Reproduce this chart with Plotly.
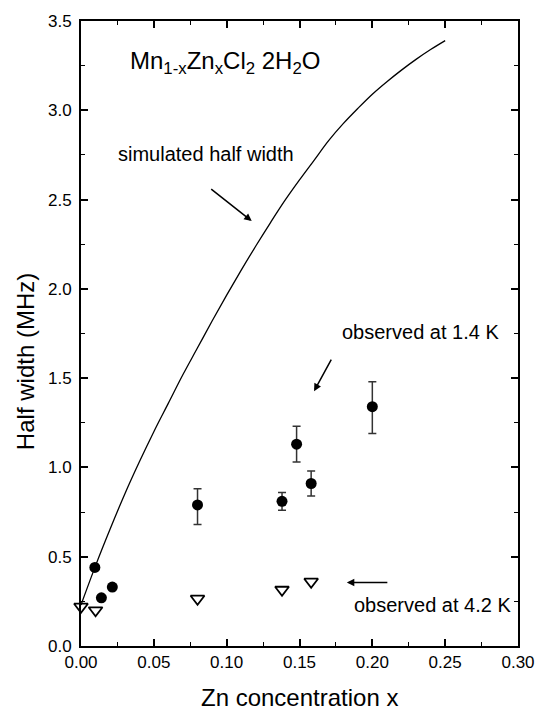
import plotly.graph_objects as go

# Simulated half width curve
sim_x = [0.00, 0.01, 0.02, 0.03, 0.04, 0.05, 0.06, 0.07, 0.08, 0.09, 0.10, 0.11, 0.12,
         0.13, 0.14, 0.15, 0.16, 0.17, 0.18, 0.19, 0.20, 0.21, 0.22, 0.23, 0.24, 0.25]
sim_y = [0.23, 0.45, 0.655, 0.85, 1.03, 1.20, 1.36, 1.52, 1.67, 1.82, 1.965, 2.105, 2.24,
         2.37, 2.495, 2.61, 2.72, 2.83, 2.925, 3.01, 3.09, 3.16, 3.225, 3.285, 3.34, 3.39]

# Observed at 1.4 K (filled circles)
obs14_x = [0.0095, 0.014, 0.0215, 0.080, 0.138, 0.148, 0.158, 0.200]
obs14_y = [0.44, 0.27, 0.33, 0.79, 0.81, 1.13, 0.91, 1.34]
obs14_err_plus = [0, 0, 0, 0.09, 0.05, 0.10, 0.07, 0.14]
obs14_err_minus = [0, 0, 0, 0.11, 0.05, 0.10, 0.07, 0.15]

# Observed at 4.2 K (open down triangles)
obs42_x = [0.0, 0.010, 0.080, 0.138, 0.158]
obs42_y = [0.22, 0.20, 0.265, 0.315, 0.36]

x_ticks = [0.00, 0.05, 0.10, 0.15, 0.20, 0.25, 0.30]
y_ticks = [0.0, 0.5, 1.0, 1.5, 2.0, 2.5, 3.0, 3.5]

FONT = "Liberation Sans, Arial, Helvetica, sans-serif"

fig = go.Figure()

fig.add_trace(go.Scatter(
    x=sim_x, y=sim_y, mode="lines",
    line=dict(color="black", width=1.3, shape="spline", smoothing=1.0),
    showlegend=False, hoverinfo="skip"))

fig.add_trace(go.Scatter(
    x=obs14_x, y=obs14_y, mode="markers",
    marker=dict(symbol="circle", size=11, color="black"),
    error_y=dict(type="data", array=obs14_err_plus, arrayminus=obs14_err_minus,
                 symmetric=False, color="#333333", thickness=1.5, width=4),
    showlegend=False))

fig.add_trace(go.Scatter(
    x=obs42_x, y=obs42_y, mode="markers",
    marker=dict(symbol="triangle-down-open", size=12, color="black",
                line=dict(width=1.8, color="black")),
    cliponaxis=False,
    showlegend=False))

axis_common = dict(
    showgrid=False, zeroline=False, showline=True, linecolor="black", linewidth=2,
    mirror="ticks", ticks="inside", ticklen=7, tickwidth=1.5, tickcolor="black",
    tickfont=dict(family=FONT, size=17, color="black"),
)

fig.update_xaxes(range=[0, 0.30], tickvals=x_ticks, ticktext=[f"{v:.2f}" for v in x_ticks],
                 minor=dict(ticks="inside", ticklen=4, tickwidth=1.2, dtick=0.025, tick0=0, tickcolor="black"),
                 **axis_common)
fig.update_yaxes(range=[0, 3.5], tickvals=y_ticks, ticktext=[f"{v:.1f}" for v in y_ticks],
                 minor=dict(ticks="inside", ticklen=4, tickwidth=1.2, dtick=0.25, tick0=0, tickcolor="black"),
                 ticklabelstandoff=4,
                 **axis_common)

ann_font = dict(family=FONT, size=20, color="black")
annotations = [
    dict(x=0.032, y=3.27, xref="x", yref="y", xanchor="left", yanchor="middle",
         text="Mn<sub>1-x</sub>Zn<sub>x</sub>Cl<sub>2</sub> 2H<sub>2</sub>O",
         showarrow=False, font=dict(family=FONT, size=24, color="black")),
    dict(x=0.0238, y=2.754, xref="x", yref="y", xanchor="left", yanchor="middle",
         text="simulated half width", showarrow=False, font=ann_font),
    dict(x=0.1776, y=1.76, xref="x", yref="y", xanchor="left", yanchor="middle",
         text="observed at 1.4 K", showarrow=False, font=ann_font),
    dict(x=0.1857, y=0.228, xref="x", yref="y", xanchor="left", yanchor="middle",
         text="observed at 4.2 K", showarrow=False, font=ann_font),
    # arrows
    dict(x=0.1172, y=2.38, xref="x", yref="y", ax=-42, ay=-33, axref="pixel", ayref="pixel",
         text="", showarrow=True, arrowhead=2, arrowsize=1, arrowwidth=1.5, arrowcolor="black"),
    dict(x=0.160, y=1.427, xref="x", yref="y", ax=18, ay=-33, axref="pixel", ayref="pixel",
         text="", showarrow=True, arrowhead=2, arrowsize=1, arrowwidth=1.5, arrowcolor="black"),
    dict(x=0.1825, y=0.355, xref="x", yref="y", ax=42, ay=0, axref="pixel", ayref="pixel",
         text="", showarrow=True, arrowhead=2, arrowsize=1, arrowwidth=1.5, arrowcolor="black"),
    # axis titles
    dict(x=0.5, y=-0.083, xref="paper", yref="paper", xanchor="center", yanchor="middle",
         text="Zn concentration x", showarrow=False, font=dict(family=FONT, size=24, color="black")),
    dict(x=-0.127, y=0.455, xref="paper", yref="paper", xanchor="center", yanchor="middle",
         text="Half width (MHz)", textangle=-90, showarrow=False,
         font=dict(family=FONT, size=24, color="black")),
]

fig.update_layout(
    width=547, height=713,
    margin=dict(l=81, r=25, t=18, b=67),
    paper_bgcolor="white", plot_bgcolor="white",
    annotations=annotations,
    showlegend=False,
)

fig.write_html("out.html")
